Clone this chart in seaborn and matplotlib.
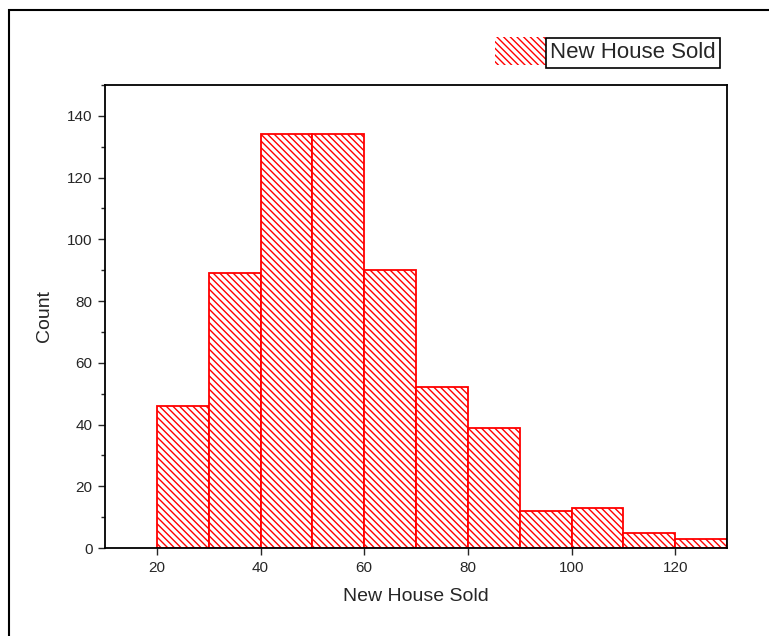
import numpy as np
import pandas as pd
import matplotlib
matplotlib.use("Agg")
import matplotlib.pyplot as plt
from matplotlib.ticker import MultipleLocator
from matplotlib.patches import Rectangle
import seaborn as sns

# histogram bins (left edges) and counts
bin_edges = [20, 30, 40, 50, 60, 70, 80, 90, 100, 110, 120, 130]
counts = [46, 89, 134, 134, 90, 52, 39, 12, 13, 5, 3]

sns.set_style("white")
plt.rcParams['font.family'] = ['Liberation Sans', 'DejaVu Sans']
plt.rcParams['hatch.linewidth'] = 1.0
plt.rcParams['hatch.color'] = 'red'

centers = [(a + b) / 2 for a, b in zip(bin_edges[:-1], bin_edges[1:])]
df = pd.DataFrame({'New House Sold': centers, 'n': counts})

fig = plt.figure(figsize=(7.69, 6.36), dpi=100)
ax = fig.add_axes([105 / 769, 1 - 548 / 636, (727 - 105) / 769, (548 - 85) / 636])

sns.histplot(data=df, x='New House Sold', weights='n', bins=bin_edges,
             ax=ax, fill=True, facecolor='white', edgecolor='red',
             linewidth=1.3, hatch='\\' * 5, alpha=1, label='New House Sold')

ax.set_xlim(10, 130)
ax.set_ylim(0, 150)
ax.xaxis.set_major_locator(MultipleLocator(20))
ax.yaxis.set_minor_locator(MultipleLocator(10))
ax.set_yticks([0, 20, 40, 60, 80, 100, 120, 140])
ax.tick_params(axis='both', which='major', direction='out', length=5, width=1,
               labelsize=11, left=True, bottom=True, pad=4)
ax.tick_params(axis='y', which='minor', direction='out', length=3, width=1, left=True)
for s in ax.spines.values():
    s.set_color('black')
    s.set_linewidth(1.3)
ax.set_xlabel('New House Sold', fontsize=14, labelpad=10)
ax.set_ylabel('Count', fontsize=14, labelpad=10)

leg = ax.legend(loc='upper right', bbox_to_anchor=(1.0 - 2 / 622, 1 + 57 / 463),
                frameon=False, fontsize=16, handlelength=2.5, handleheight=1.6,
                handletextpad=0.0, borderaxespad=0.0)
leg.legend_handles[0].set_linewidth(0)
txt = leg.get_texts()[0]
txt.set_bbox(dict(facecolor='white', edgecolor='black', linewidth=1.2, pad=3))

# figure border (left and top edges visible)
fig.add_artist(Rectangle((9 / 769, -0.05), 1.1, 1 - 10 / 636 + 0.05,
                         transform=fig.transFigure, fill=False,
                         edgecolor='black', linewidth=1.5))

fig.savefig('out.png', dpi=100)
